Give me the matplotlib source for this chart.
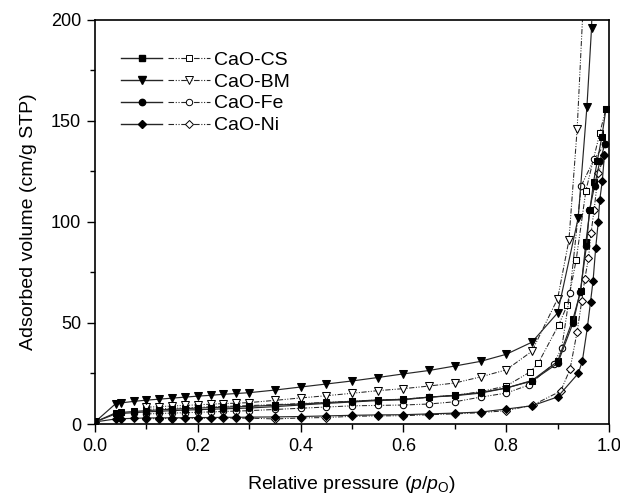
import matplotlib
matplotlib.use("Agg")
import matplotlib.pyplot as plt
from matplotlib.legend_handler import HandlerTuple
from matplotlib.lines import Line2D
from matplotlib.ticker import MultipleLocator

plt.rcParams['font.family'] = ['Liberation Sans', 'DejaVu Sans']
plt.rcParams['mathtext.fontset'] = 'custom'
plt.rcParams['mathtext.rm'] = 'Liberation Sans'
plt.rcParams['mathtext.it'] = 'Liberation Sans:italic'

# relative pressure grid shared by the low-pressure part of every branch
p_low_ads = [0, .04, .05, .075, .1, .125, .15, .175, .2, .225, .25, .275, .3,
             .35, .4, .45, .5, .55, .6, .65, .7, .75, .8, .85, .9]
p_low_des = [.1, .125, .15, .175, .2, .225, .25, .275, .3,
             .35, .4, .45, .5, .55, .6, .65, .7, .75, .8]

# CaO-CS
cs_ads_p = p_low_ads + [.93, .945, .955, .963, .97, .977, .986, .994]
cs_ads_v = [1, 5.5, 5.7, 6.2, 6.6, 7.0, 7.3, 7.6, 7.9, 8.1, 8.3, 8.5, 8.7,
            9.3, 9.9, 10.6, 11.2, 11.9, 12.2, 13.3, 14.2, 15.6, 17.8, 21.5, 31,
            52, 66, 90, 106, 120, 130, 142, 156]
cs_des_p = p_low_des + [.846, .862, .902, .919, .936, .955, .982, .994]
cs_des_v = [7.2, 7.5, 7.8, 8.0, 8.3, 8.5, 8.7, 8.9, 9.1,
            9.6, 10.1, 10.7, 11.3, 11.9, 12.3, 13.3, 14.2, 16, 18.8,
            25.7, 30, 49, 59, 81, 115.5, 144, 156]

# CaO-BM
bm_ads_p = p_low_ads + [.94, .957, .966, .972]
bm_ads_v = [1, 10, 10.4, 11.2, 11.8, 12.3, 12.8, 13.3, 13.8, 14.2, 14.7, 15.1, 15.5,
            16.8, 18.3, 19.8, 21.3, 23, 24.8, 26.5, 28.7, 31, 34.5, 40.5, 55,
            102, 157, 196, 260]
bm_des_p = p_low_des + [.85, .9, .922, .938, .955]
bm_des_v = [8.3, 8.6, 8.9, 9.2, 9.5, 9.8, 10.1, 10.3, 10.6,
            11.7, 12.9, 14, 15.2, 16.5, 17.5, 18.8, 20.3, 23.3, 26.8,
            36, 62, 91, 146, 235]

# CaO-Fe
fe_ads_p = p_low_ads + [.93, .944, .956, .962, .972, .982, .992]
fe_ads_v = [1, 5.0, 5.2, 5.6, 6.0, 6.3, 6.6, 6.9, 7.1, 7.3, 7.5, 7.7, 7.9,
            8.6, 9.4, 10.2, 10.9, 11.6, 12.0, 13.3, 14, 15.3, 17.8, 21.3, 30,
            50, 65.5, 88, 106, 118, 130, 138.6]
fe_des_p = p_low_des + [.844, .892, .908, .924, .946, .971, .992]
fe_des_v = [5.0, 5.2, 5.4, 5.6, 5.8, 6.0, 6.2, 6.4, 6.6,
            7.2, 7.8, 8.4, 9.0, 9.2, 9.4, 9.9, 11, 13.3, 15.3,
            19.3, 29.7, 37.6, 65, 118, 131, 138.6]

# CaO-Ni
ni_ads_p = p_low_ads + [.94, .948, .958, .964, .969, .974, .979, .982, .987, .991]
ni_ads_v = [1, 2.5, 2.6, 2.8, 3.0, 3.0, 3.1, 3.1, 3.2, 3.2, 3.3, 3.3, 3.4,
            3.5, 3.7, 4.0, 4.3, 4.5, 4.6, 5.0, 5.4, 5.9, 7.4, 9.0, 13.4,
            25, 31, 48, 60.5, 71, 87, 100, 111, 120.5, 133]
ni_des_p = p_low_des + [.852, .906, .924, .938, .947, .953, .96, .965, .971, .979, .991]
ni_des_v = [2.6, 2.7, 2.7, 2.8, 2.8, 2.8, 2.9, 2.9, 2.9,
            2.5, 3.0, 3.2, 3.8, 4.0, 4.1, 4.6, 5.0, 5.6, 6.6,
            9.4, 16.3, 27, 45.7, 61, 72, 82, 94.5, 106, 124, 133]

labels = ['CaO-CS', 'CaO-BM', 'CaO-Fe', 'CaO-Ni']
markers = ['s', 'v', 'o', 'D']
sizes = [4.2, 5.2, 4.6, 3.8]
series = [(cs_ads_p, cs_ads_v, cs_des_p, cs_des_v),
          (bm_ads_p, bm_ads_v, bm_des_p, bm_des_v),
          (fe_ads_p, fe_ads_v, fe_des_p, fe_des_v),
          (ni_ads_p, ni_ads_v, ni_des_p, ni_des_v)]

line_col = '#262626'
dashdot = (0, (5, 1.5, 1, 1.5, 1, 1.5))

fig = plt.figure(figsize=(6.2, 4.99), dpi=100)
ax = fig.add_axes([0.1532, 0.1503, 0.8291, 0.8097])

handles = []
for (pa, va, pd, vd), m, ms in zip(series, markers, sizes):
    ax.plot(pd, vd, linestyle=dashdot, color=line_col, lw=0.75,
            marker=m, ms=ms, mfc='white', mec='black', mew=0.75, zorder=2)
    ax.plot(pa, va, linestyle='-', color=line_col, lw=0.85,
            marker=m, ms=ms, mfc='black', mec='black', mew=0.75, zorder=3)
    h_ads = Line2D([], [], linestyle='-', color=line_col, lw=1.0,
                   marker=m, ms=ms, mfc='black', mec='black')
    h_des = Line2D([], [], linestyle=dashdot, color=line_col, lw=0.8,
                   marker=m, ms=ms, mfc='white', mec='black', mew=0.7)
    handles.append((h_ads, h_des))

ax.legend(handles, labels, handler_map={tuple: HandlerTuple(ndivide=None, pad=0.3)},
          loc='upper left', bbox_to_anchor=(0.05, 0.923), frameon=False,
          fontsize=14, handlelength=4.6, handletextpad=0.2,
          labelspacing=0.22, borderaxespad=0, borderpad=0)

ax.set_xlim(0, 1.0)
ax.set_ylim(0, 200)
ax.xaxis.set_major_locator(MultipleLocator(0.2))
ax.xaxis.set_minor_locator(MultipleLocator(0.1))
ax.yaxis.set_major_locator(MultipleLocator(50))
ax.yaxis.set_minor_locator(MultipleLocator(25))
ax.tick_params(which='both', direction='out', top=False, right=False,
               labelsize=13, width=1.0)
ax.tick_params(which='major', length=6, pad=4)
ax.tick_params(which='minor', length=3.5)
for s in ax.spines.values():
    s.set_linewidth(1.2)

ax.set_xlabel(r'Relative pressure ($p/p_{\rm O}$)', fontsize=14, labelpad=14)
ax.set_ylabel('Adsorbed volume (cm/g STP)', fontsize=14, labelpad=10)

fig.savefig('out.png', dpi=100)
